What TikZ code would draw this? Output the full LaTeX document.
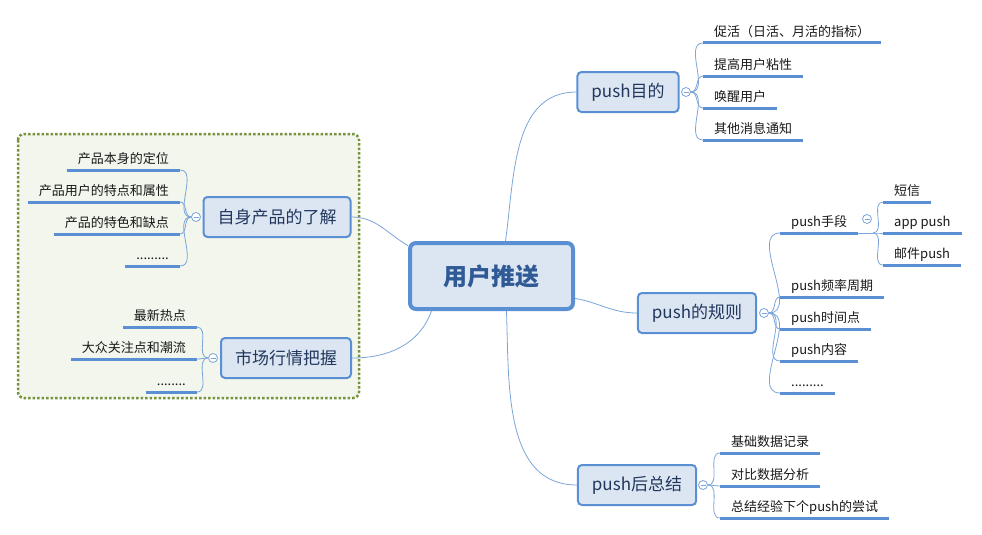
\documentclass[tikz,border=0pt]{standalone}
\usepackage{fontspec}
\setmainfont{Noto Sans CJK SC}
\usetikzlibrary{positioning}
\definecolor{nodefill}{HTML}{DCE6F2}
\definecolor{nodeline}{HTML}{5B8FD4}
\definecolor{conncol}{HTML}{7BA4DA}
\definecolor{nodetext}{HTML}{22375E}
\definecolor{roottext}{HTML}{2F5A96}
\definecolor{groupfill}{HTML}{F2F6EC}
\definecolor{groupline}{HTML}{76923C}

\begin{document}
\begin{tikzpicture}[x=1pt, y=-1pt,
    root/.style={rectangle, draw=nodeline, line width=4pt, rounded corners=6pt, fill=nodefill, text=roottext, font=\fontsize{24}{28}\selectfont\bfseries, minimum width=163pt, minimum height=66pt},
    topic/.style={rectangle, draw=nodeline, line width=2pt, rounded corners=4pt, fill=nodefill, text=nodetext, font=\fontsize{17}{20}\selectfont, inner xsep=14pt, minimum height=40pt},
    leafr/.style={anchor=south west, text=black!90, font=\fontsize{13}{15}\selectfont, inner xsep=11pt, inner ysep=4.5pt, text height=10pt, text depth=2pt},
    leafl/.style={leafr, anchor=south east},
    fold/.style={circle, draw=conncol, line width=0.8pt, fill=white, minimum size=9pt, inner sep=0pt,
        path picture={\draw[conncol, line width=0.8pt] ([xshift=-2.5pt]path picture bounding box.center) -- ([xshift=2.5pt]path picture bounding box.center);}},
    conn/.style={draw=conncol, line width=0.8pt},
    uline/.style={draw=nodeline, line width=3pt},
    groupbox/.style={draw=groupline, fill=groupfill, line width=2.5pt, dash pattern=on 2.5pt off 2pt, rounded corners=6pt}]
    \useasboundingbox (0,0) rectangle (982,535);
    \draw [groupbox] (18,134) rectangle (359,398);

    % central topic and main branches
    \node [root] (root) at (491.5,276) {用户推送};
    \node [topic] (self) at (277,217) {自身产品的了解};
    \node [topic] (market) at (286,358) {市场行情把握};
    \node [topic] (aim) at (628,92) {push目的};
    \node [topic] (rule) at (697,313) {push的规则};
    \node [topic] (after) at (637,485) {push后总结};

    % collapse buttons
    \node [fold] (fself) at (196,217) {};
    \node [fold] (fmarket) at (213,358) {};
    \node [fold] (faim) at (686,92) {};
    \node [fold] (frule) at (764,313) {};
    \node [fold] (fway) at (867,219) {};
    \node [fold] (fafter) at (703,485) {};

    % left leaves
    \node [leafl] (self1) at (180,170) {产品本身的定位};
    \node [leafl] (self2) at (180,202) {产品用户的特点和属性};
    \node [leafl] (self3) at (180,234) {产品的特色和缺点};
    \node [leafl] (self4) at (180,266) {.........};
    \node [leafl] (market1) at (197,327) {最新热点};
    \node [leafl] (market2) at (197,359) {大众关注点和潮流};
    \node [leafl] (market3) at (197,392) {........};

    % right leaves
    \node [leafr] (aim1) at (703,43) {促活（日活、月活的指标）};
    \node [leafr] (aim2) at (703,76) {提高用户粘性};
    \node [leafr] (aim3) at (703,108) {唤醒用户};
    \node [leafr] (aim4) at (703,140) {其他消息通知};
    \node [leafr] (rule1) at (780,233) {push手段};
    \node [leafr] (rule2) at (780,297) {push频率周期};
    \node [leafr] (rule3) at (780,329) {push时间点};
    \node [leafr] (rule4) at (780,361) {push内容};
    \node [leafr] (rule5) at (780,393) {.........};
    \node [leafr] (way1) at (883,202) {短信};
    \node [leafr] (way2) at (883,233) {app push};
    \node [leafr] (way3) at (883,265) {邮件push};
    \node [leafr] (after1) at (720,453) {基础数据记录};
    \node [leafr] (after2) at (720,486) {对比数据分析};
    \node [leafr] (after3) at (720,518) {总结经验下个push的尝试};
    \coordinate (wayfork) at (873,233);

    \foreach \n in {self1,self2,self3,self4,market1,market2,market3,aim1,aim2,aim3,aim4,rule1,rule2,rule3,rule4,rule5,way1,way2,way3,after1,after2,after3}
        \draw [uline] (\n.south west) -- (\n.south east);

    % root to main branches
    \draw [conn] (root.160) to[out=150,in=0] (self.east);
    \draw [conn] ([xshift=-60pt]root.south) to[out=-110,in=0] (market.east);
    \draw [conn] ([xshift=14pt]root.north) to[out=82,in=180] (aim.west);
    \draw [conn] (root.-15) to[out=-10,in=180] (rule.west);
    \draw [conn] ([xshift=15pt]root.south) to[out=-88,in=180] (after.west);

    % fold buttons to leaves
    \foreach \n in {self1,self2,self3,self4}
        \draw [conn] (fself.west) to[out=180,in=0] (\n.south east);
    \foreach \n in {market1,market2,market3}
        \draw [conn] (fmarket.west) to[out=180,in=0] (\n.south east);
    \foreach \n in {aim1,aim2,aim3,aim4}
        \draw [conn] (faim.east) to[out=0,in=180] (\n.south west);
    \foreach \n in {rule1,rule2,rule3,rule4,rule5}
        \draw [conn] (frule.east) to[out=0,in=180] (\n.south west);
    \foreach \n in {after1,after2,after3}
        \draw [conn] (fafter.east) to[out=0,in=180] (\n.south west);
    \draw [conn] (rule1.south east) -- (wayfork);
    \foreach \n in {way1,way2,way3}
        \draw [conn] (wayfork) to[out=0,in=180] (\n.south west);
\end{tikzpicture}
\end{document}
